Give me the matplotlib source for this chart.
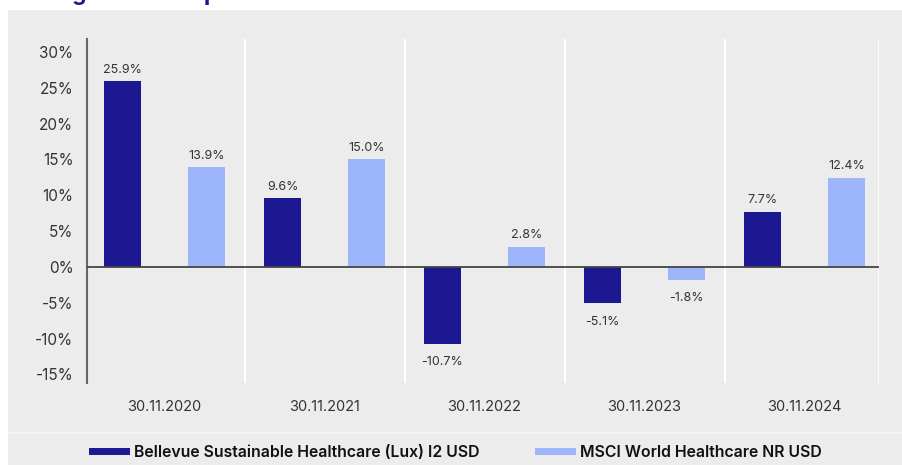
import matplotlib
matplotlib.use("Agg")
import matplotlib.pyplot as plt
import numpy as np
from matplotlib.patches import Rectangle
from matplotlib.lines import Line2D

categories = ["30.11.2020", "30.11.2021", "30.11.2022", "30.11.2023", "30.11.2024"]
fund_name = "Bellevue Sustainable Healthcare (Lux) I2 USD"
bench_name = "MSCI World Healthcare NR USD"
fund_values = [25.9, 9.6, -10.7, -5.1, 7.7]
bench_values = [13.9, 15.0, 2.8, -1.8, 12.4]
yticks = [-15, -10, -5, 0, 5, 10, 15, 20, 25, 30]

navy = "#1b1891"
light = "#9db5fa"
bg = "#ececec"
txt = "#333333"

plt.rcParams['font.family'] = ['Inter', 'DejaVu Sans']

W, H = 903, 465
fig = plt.figure(figsize=(W / 100, H / 100), dpi=100)
fig.patch.set_facecolor("white")

# gray panel
fig.add_artist(Rectangle((8 / W, 0), 1 - 8 / W, (H - 10) / H, transform=fig.transFigure,
                         facecolor=bg, edgecolor="none", zorder=0))
# separator above legend
fig.add_artist(Line2D([8 / W, 1], [(H - 433) / H] * 2, transform=fig.transFigure,
                      color="#f6f6f6", lw=1.2, zorder=1))
# title, clipped by the top edge as in the reference
fig.text(10 / W, 1.0, "Rolling 12-month performance", transform=fig.transFigure,
         ha="left", va="baseline", fontsize=16.5, fontweight="bold", color=navy)

ax_left, ax_right = 87.3, 879.0
ax = fig.add_axes([ax_left / W, (H - 383) / H, (ax_right - ax_left) / W, (383 - 39) / H])
ax.set_facecolor("none")

x = np.arange(len(categories))
off = 0.2625
bw = 0.231
ax.bar(x - off, fund_values, bw, color=navy, zorder=3)
ax.bar(x + off, bench_values, bw, color=light, zorder=3)

cat_w = 160.0
xlo = -0.5 + (ax_left - 84.5) / cat_w
xhi = 4.5 - (884.5 - ax_right) / cat_w
ax.set_xlim(xlo, xhi)
ax.set_ylim(-16.2, 31.8)

for i in range(len(categories) - 1):
    ax.axvline(i + 0.5, color="white", lw=1.5, zorder=1)
ax.axvline(xhi, color="white", lw=2.0, zorder=1)

ax.axhline(0, color="#444444", lw=1.3, zorder=4)

def lab(xpos, v):
    if v >= 0:
        ax.annotate(f"{v:.1f}%", (xpos, v), xytext=(0, 4), textcoords="offset points",
                    ha="center", va="bottom", fontsize=9, color=txt)
    else:
        ax.annotate(f"{v:.1f}%", (xpos, v), xytext=(0, -9), textcoords="offset points",
                    ha="center", va="top", fontsize=9, color=txt)

for i in range(len(categories)):
    lab(x[i] - off, fund_values[i])
    lab(x[i] + off, bench_values[i])

ax.set_yticks(yticks)
ax.set_yticklabels([f"{t}%" for t in yticks])
ax.set_xticks(x)
ax.set_xticklabels(categories)
ax.tick_params(axis="y", length=0, pad=10, labelsize=11, labelcolor=txt)
ax.tick_params(axis="x", length=0, pad=12, labelsize=10.5, labelcolor=txt)

for s in ["top", "right", "bottom"]:
    ax.spines[s].set_visible(False)
ax.spines["left"].set_color("#666666")
ax.spines["left"].set_linewidth(1.5)

# legend
handles = [Line2D([], [], color=navy, lw=5), Line2D([], [], color=light, lw=5)]
leg = fig.legend(handles, [fund_name, bench_name], loc="center left",
                 bbox_to_anchor=(79 / W, (H - 452) / H), ncol=2, frameon=False,
                 handlelength=2.15, handletextpad=0.5, columnspacing=3.7,
                 borderpad=0.3,
                 prop={"size": 11.4, "weight": "semibold"})
for t in leg.get_texts():
    t.set_color("#111111")

fig.savefig("out.png", dpi=100, facecolor=fig.get_facecolor())
